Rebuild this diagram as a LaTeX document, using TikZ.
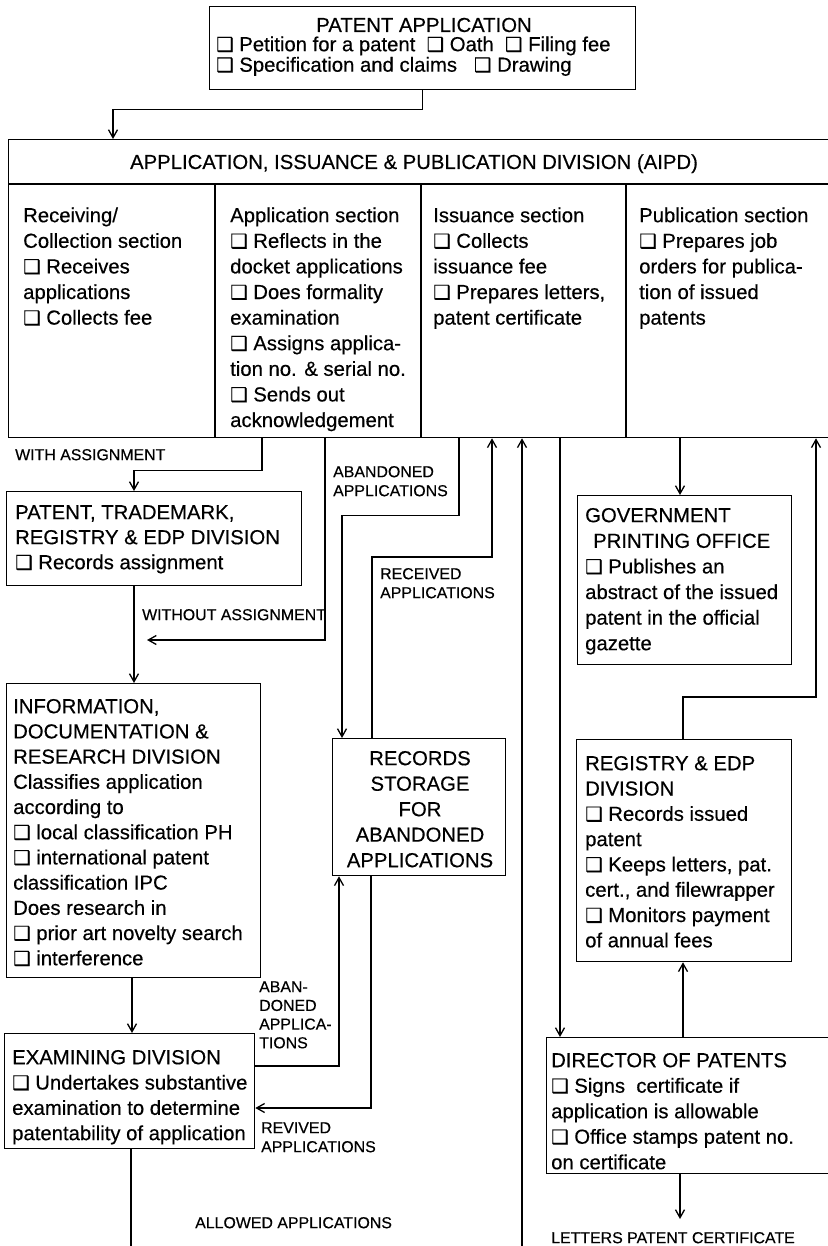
\documentclass[tikz,border=0pt]{standalone}
\usepackage{fontspec}
\setmainfont{Liberation Sans}[FakeBold=0.4]
\newfontfamily\djv{DejaVu Sans}[FakeBold=0.3]
\usetikzlibrary{arrows.meta,calc}
\newcommand\ckbox{{\djv\fontsize{19.5}{19.5}\selectfont ❑}}
\newcommand\tstrut{\rule{0pt}{15pt}}
\newcommand\lstrut{\rule{0pt}{12pt}}
\begin{document}
\begin{tikzpicture}[x=1pt,y=-1pt,
  box/.style={draw, line width=1.3pt, inner sep=0pt, anchor=north west},
  txt/.style={inner sep=0pt, anchor=north west, align=left, font=\fontsize{20.3}{25.6}\selectfont},
  lab/.style={inner sep=0pt, anchor=north west, align=left, font=\fontsize{15.9}{18.8}\selectfont},
  ln/.style={line width=1.3pt},
  arr/.style={line width=1.3pt, -{Straight Barb[length=8pt,width=9pt]}}]
\useasboundingbox (0,0) rectangle (827,1246);
% boxes
\node[box, minimum width=426pt, minimum height=83pt] (pa) at (209,6) {};
\node[box, minimum width=822pt, minimum height=298pt] (aipd) at (8,139) {};
\node[box, minimum width=295pt, minimum height=94pt] (ptr) at (6,491) {};
\node[box, minimum width=214pt, minimum height=169pt] (gpo) at (577,495) {};
\node[box, minimum width=254pt, minimum height=294pt] (idr) at (6,683) {};
\node[box, minimum width=173pt, minimum height=137pt] (rs) at (332,738) {};
\node[box, minimum width=215pt, minimum height=222pt] (redp) at (576,739) {};
\node[box, minimum width=250pt, minimum height=115pt] (ex) at (4,1033) {};
\node[box, minimum width=290pt, minimum height=136pt] (dir) at (546,1037) {};
% AIPD inner lines
\draw[ln] (aipd.west |- 0,184) -- (aipd.east |- 0,184);
\foreach \cx in {215,421,626} \draw[ln] (\cx,184) -- (aipd.south -| \cx,0);
% texts
\node[txt, anchor=base] (patitle) at (424,32) {PATENT APPLICATION};
\node[txt, font=\fontsize{20.3}{20.5}\selectfont] (pabody) at (216,36) {\tstrut\ckbox\ Petition for a patent\ \ \ckbox\ Oath\ \ \ckbox\ Filing fee\\\ckbox\ Specification and claims\ \ \ \ckbox\ Drawing};
\node[txt, anchor=base] (aipdtitle) at (414,169) {APPLICATION, ISSUANCE \& PUBLICATION DIVISION (AIPD)};
\node[txt] (c1) at (23,207) {\tstrut Receiving/\\Collection section\\\ckbox\ Receives\\applications\\\ckbox\ Collects fee};
\node[txt] (c2) at (230,207) {\tstrut Application section\\\ckbox\ Reflects in the\\docket applications\\\ckbox\ Does formality\\examination\\\ckbox\ Assigns applica-\\tion no. \& serial no.\\\ckbox\ Sends out\\acknowledgement};
\node[txt] (c3) at (433,207) {\tstrut Issuance section\\\ckbox\ Collects\\issuance fee\\\ckbox\ Prepares letters,\\patent certificate};
\node[txt] (c4) at (639,207) {\tstrut Publication section\\\ckbox\ Prepares job\\orders for publica-\\tion of issued\\patents};
\node[txt, font=\fontsize{20.3}{25}\selectfont] (ptrt) at (15,504) {\tstrut PATENT, TRADEMARK,\\REGISTRY \& EDP DIVISION\\\ckbox\ Records assignment};
\node[txt] (gpot) at (585,507) {\tstrut GOVERNMENT\\\hspace{8pt}PRINTING OFFICE\\\ckbox\ Publishes an\\abstract of the issued\\patent in the official\\gazette};
\node[txt, font=\fontsize{20.3}{25.2}\selectfont] (idrt) at (13,698) {\tstrut INFORMATION,\\DOCUMENTATION \&\\RESEARCH DIVISION\\Classifies application\\according to\\\ckbox\ local classification PH\\\ckbox\ international patent\\classification IPC\\Does research in\\\ckbox\ prior art novelty search\\\ckbox\ interference};
\node[txt, anchor=north, align=center, font=\fontsize{20.3}{25.5}\selectfont] (rst) at (420,750) {\tstrut RECORDS\\STORAGE\\FOR\\ABANDONED\\APPLICATIONS};
\node[txt, font=\fontsize{20.3}{25.3}\selectfont] (redpt) at (585,755) {\tstrut REGISTRY \& EDP\\DIVISION\\\ckbox\ Records issued\\patent\\\ckbox\ Keeps letters, pat.\\cert., and filewrapper\\\ckbox\ Monitors payment\\of annual fees};
\node[txt, font=\fontsize{20.3}{25.3}\selectfont] (ext) at (12,1049) {\tstrut EXAMINING DIVISION\\\ckbox\ Undertakes substantive\\examination to determine\\patentability of application};
\node[txt, font=\fontsize{20.3}{25.5}\selectfont] (dirt) at (551,1052) {\tstrut DIRECTOR OF PATENTS\\\ckbox\ Signs\ \ certificate if\\application is allowable\\\ckbox\ Office stamps patent no.\\on certificate};
% labels
\node[lab] (lwith) at (15,448) {\lstrut WITH ASSIGNMENT};
\node[lab, font=\fontsize{15.9}{19}\selectfont] (laband) at (333,465) {\lstrut ABANDONED\\APPLICATIONS};
\node[lab, font=\fontsize{15.9}{19}\selectfont] (lrecv) at (380,567) {\lstrut RECEIVED\\APPLICATIONS};
\node[lab] (lwithout) at (142,608) {\lstrut WITHOUT ASSIGNMENT};
\node[lab, font=\fontsize{15.9}{18.7}\selectfont] (laband2) at (259,980) {\lstrut ABAN-\\DONED\\APPLICA-\\TIONS};
\node[lab, font=\fontsize{15.9}{19}\selectfont] (lrev) at (261,1121) {\lstrut REVIVED\\APPLICATIONS};
\node[lab] (lallow) at (195,1216) {\lstrut ALLOWED APPLICATIONS};
\node[lab] (lletters) at (551,1231) {\lstrut LETTERS PATENT CERTIFICATE};
% free ends
\coordinate (wo) at (147,640);
\coordinate (al1) at (131,1250);
\coordinate (al2) at (522,1250);
\coordinate (lp) at (680,1219);
% connectors
\draw[arr] (pa.south) -- ++(0,19) -| (aipd.north -| 113,0);
\draw[arr] (aipd.south -| 262,0) -- ++(0,32) -| (ptr.north -| 134,0);
\draw[arr] (ptr.south -| 134,0) -- (idr.north -| 134,0);
\draw[arr] (aipd.south -| 325,0) |- (wo);
\draw[arr] (aipd.south -| 459,0) -- ++(0,77) -| (rs.north -| 342,0);
\draw[arr] (rs.north -| 372,0) -- ++(0,-181) -| (aipd.south -| 492,0);
\draw[ln] (ex.south -| 131,0) -- (al1);
\draw[arr] (al2) -- (aipd.south -| 522,0);
\draw[arr] (aipd.south -| 560,0) -- (dir.north -| 560,0);
\draw[arr] (aipd.south -| 680,0) -- (gpo.north -| 680,0);
\draw[arr] (redp.north -| 683,0) -- ++(0,-42) -| (aipd.south -| 816,0);
\draw[arr] (dir.north -| 683,0) -- (redp.south -| 683,0);
\draw[arr] (dir.south -| 680,0) -- (lp);
\draw[arr] (idr.south -| 132,0) -- (ex.north -| 132,0);
\draw[arr] (ex.east |- 0,1066) -| (rs.south -| 339,0);
\draw[arr] (rs.south -| 371,0) |- (ex.east |- 0,1108);
\end{tikzpicture}
\end{document}
